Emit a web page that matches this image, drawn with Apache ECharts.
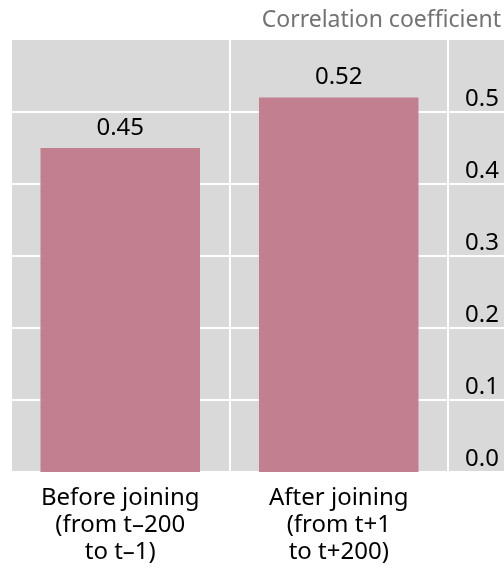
<!DOCTYPE html>
<html>
<head>
<meta charset="utf-8">
<script src="https://cdn.jsdelivr.net/npm/echarts@6/dist/echarts.min.js"></script>
<style>
  html, body { margin: 0; padding: 0; background: #ffffff; }
  #chart { width: 504px; height: 570px; }
</style>
</head>
<body>
<div id="chart"></div>
<script>
// Correlation before and after joining
const categories = [
  'Before joining\n(from t\u2013200\nto t\u20131)',
  'After joining\n(from t+1\nto t+200)'
];
const correlation = [0.45, 0.52];
const yTicks = [0.0, 0.1, 0.2, 0.3, 0.4, 0.5];

const FONT = '"Noto Sans", "Open Sans", sans-serif';
const PANEL = '#d9d9d9';
const BAR = '#c27f8f';

const chart = echarts.init(document.getElementById('chart'));

chart.setOption({
  animation: false,
  backgroundColor: '#ffffff',
  title: {
    text: 'Correlation coefficient',
    right: -2,
    top: 4,
    textStyle: { color: '#737373', fontSize: 23, fontWeight: 'normal', fontFamily: FONT }
  },
  grid: [
    { left: 11, right: 56, top: 40, bottom: 98, show: true, backgroundColor: PANEL, borderWidth: 0 },
    { left: 448, right: 0, top: 40, bottom: 98, show: true, backgroundColor: PANEL, borderWidth: 0 }
  ],
  xAxis: [
    {
      type: 'category',
      gridIndex: 0,
      data: categories,
      axisLine: { show: false },
      axisTick: { show: false },
      splitLine: { show: true, lineStyle: { color: '#ffffff', width: 2 } },
      axisLabel: {
        color: '#000000',
        fontSize: 24,
        lineHeight: 27,
        fontFamily: FONT,
        margin: 13,
        interval: 0
      }
    },
    { type: 'value', gridIndex: 1, show: false, min: 0, max: 1 }
  ],
  yAxis: [
    {
      type: 'value',
      gridIndex: 0,
      min: 0,
      max: 0.6,
      interval: 0.1,
      axisLine: { show: false },
      axisTick: { show: false },
      axisLabel: { show: false },
      splitLine: { show: true, showMaxLine: false, lineStyle: { color: '#ffffff', width: 2 } }
    },
    {
      type: 'value',
      gridIndex: 1,
      position: 'right',
      min: 0,
      max: 0.6,
      interval: 0.1,
      axisLine: { show: false },
      axisTick: { show: false },
      splitLine: { show: true, showMaxLine: false, lineStyle: { color: '#ffffff', width: 2 } },
      axisLabel: {
        inside: true,
        showMaxLabel: false,
        margin: 5,
        color: '#000000',
        fontSize: 24,
        fontFamily: FONT,
        verticalAlign: 'bottom',
        padding: [0, 0, 1, 0],
        formatter: function (v) {
          return yTicks.some(function (t) { return Math.abs(t - v) < 1e-9; }) ? v.toFixed(1) : '';
        }
      }
    }
  ],
  series: [
    {
      type: 'bar',
      xAxisIndex: 0,
      yAxisIndex: 0,
      data: correlation,
      barWidth: '73%',
      itemStyle: { color: BAR },
      label: {
        show: true,
        position: 'top',
        distance: 8,
        color: '#000000',
        fontSize: 24,
        fontFamily: FONT,
        formatter: function (p) { return p.value.toFixed(2); }
      }
    }
  ]
});
</script>
</body>
</html>
